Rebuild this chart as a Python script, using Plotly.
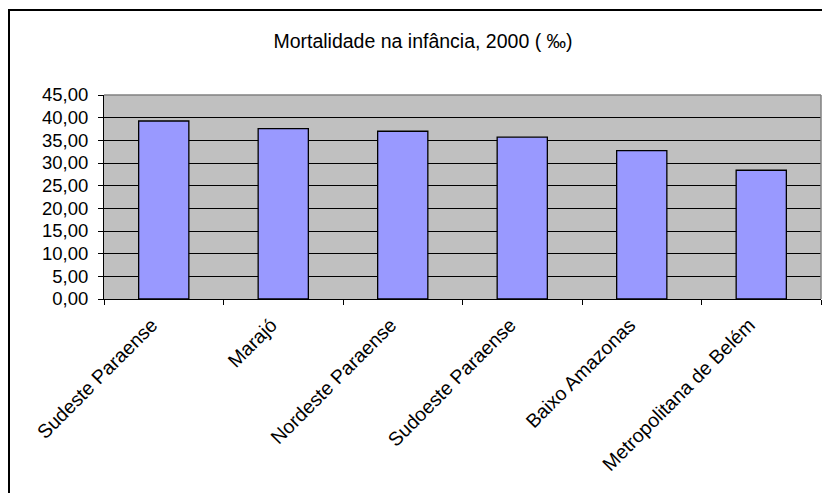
import plotly.graph_objects as go

categories = ["Sudeste Paraense", "Marajó", "Nordeste Paraense", "Sudoeste Paraense",
              "Baixo Amazonas", "Metropolitana de Belém"]
values = [39.27, 37.6, 37.0, 35.7, 32.75, 28.4]
y_ticks = [0, 5, 10, 15, 20, 25, 30, 35, 40, 45]
title_text = "Mortalidade na infância, 2000 ( ‰)"

FONT = "Liberation Sans, Arial, sans-serif"

fig = go.Figure()
fig.add_trace(go.Bar(
    x=categories, y=values,
    marker=dict(color="#9999FF", line=dict(color="black", width=1.3)),
))

fig.update_layout(
    width=822, height=493,
    margin=dict(l=104, r=1, t=95, b=194),
    paper_bgcolor="white",
    plot_bgcolor="#C0C0C0",
    bargap=0.58,
    separators=",.",
    showlegend=False,
    font=dict(family=FONT, size=18, color="black"),
    title=dict(text=title_text, xref="container", x=423 / 822, y=1 - 41.0 / 493,
               yanchor="middle", xanchor="center",
               font=dict(family=FONT, size=19.5, color="black")),
)

fig.update_xaxes(
    type="category", tickson="boundaries", ticks="outside", ticklen=5, tickcolor="black",
    tickangle=-45, showline=True, linecolor="black", linewidth=1, showgrid=False,
    ticklabelshift=-12, ticklabelstandoff=6,
    tickfont=dict(family=FONT, size=19.5, color="black"), fixedrange=True,
)
fig.update_yaxes(
    range=[0, 45], tickvals=y_ticks, tickformat=".2f", ticks="outside", ticklen=5,
    tickcolor="black", showline=True, linecolor="black", linewidth=1,
    showgrid=True, gridcolor="black", gridwidth=1, zeroline=False,
    ticklabelstandoff=6,
    tickfont=dict(family=FONT, size=18.5, color="black"), fixedrange=True,
)

# plot-area border (grey, top and right)
fig.add_shape(type="line", xref="paper", yref="paper", x0=0, x1=1, y0=1, y1=1,
              line=dict(color="#808080", width=1.5))
fig.add_shape(type="line", xref="paper", yref="paper", x0=1, x1=1, y0=0, y1=1,
              line=dict(color="#808080", width=1.5))

# outer chart frame
fig.add_shape(type="rect", xref="paper", yref="paper",
              x0=(9 - 104) / 717, x1=(840 - 104) / 717,
              y0=(299 - 520) / 204, y1=(299 - 10) / 204,
              line=dict(color="black", width=2), fillcolor="rgba(0,0,0,0)", layer="above")

fig.write_html("out.html")
